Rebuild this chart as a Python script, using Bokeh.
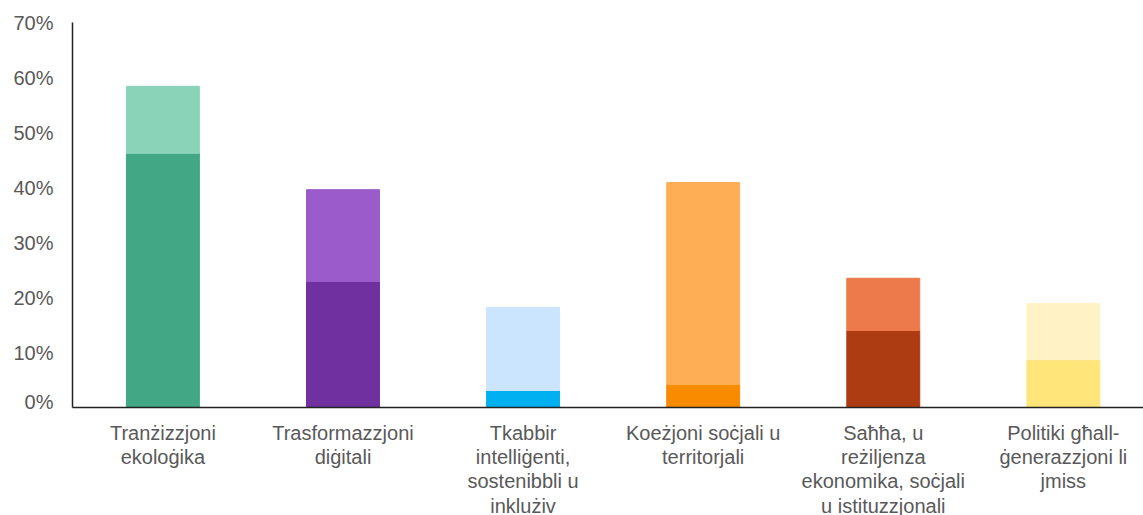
from bokeh.plotting import figure
from bokeh.layouts import column
from bokeh.models import Range1d, FixedTicker, NumeralTickFormatter, ColumnDataSource
from bokeh.core.properties import value
from bokeh.embed import file_html
from bokeh.resources import INLINE

categories = [
    "Tranżizzjoni\nekoloġika",
    "Trasformazzjoni\ndiġitali",
    "Tkabbir\nintelliġenti,\nsostenibbli u\ninklużiv",
    "Koeżjoni soċjali u\nterritorjali",
    "Saħħa, u\nreżiljenza\nekonomika, soċjali\nu istituzzjonali",
    "Politiki għall-\nġenerazzjoni li\njmiss",
]
lower = [0.462, 0.229, 0.031, 0.042, 0.140, 0.087]
total = [0.584, 0.396, 0.182, 0.409, 0.235, 0.189]
dark_colors = ["#41A785", "#7030A0", "#00B0F0", "#F98B00", "#AD3C13", "#FFE57A"]
light_colors = ["#8AD3B9", "#9B5BCB", "#CCE5FF", "#FEAF55", "#EC7A4B", "#FFF3C5"]
y_ticks = [0, 0.1, 0.2, 0.3, 0.4, 0.5, 0.6, 0.7]

xs = list(range(len(categories)))
src = ColumnDataSource(dict(x=xs, lower=lower, total=total,
                            dark=dark_colors, light=light_colors))

xr = Range1d(-0.502, 5.445)
TOP_H = 412
p = figure(width=1143, height=TOP_H, output_backend="svg", toolbar_location=None,
           x_range=xr, y_range=Range1d(0, 0.7),
           min_border_left=72, min_border_right=0, min_border_top=22,
           min_border_bottom=5)
p.vbar(x="x", bottom=0, top="lower", width=0.405, color="dark", source=src)
p.vbar(x="x", bottom="lower", top="total", width=0.405, color="light", source=src)

p.outline_line_color = None
p.xgrid.visible = False
p.ygrid.visible = False

p.yaxis.ticker = FixedTicker(ticks=y_ticks)
p.yaxis.formatter = NumeralTickFormatter(format="0%")
p.xaxis.ticker = FixedTicker(ticks=xs)
p.xaxis.major_label_overrides = {i: "" for i in xs}
p.xaxis.major_label_standoff = 0
p.xaxis.major_label_text_font_size = "0px"

for ax in (p.xaxis[0], p.yaxis[0]):
    ax.major_tick_line_color = None
    ax.minor_tick_line_color = None
    ax.major_tick_out = 0
    ax.major_tick_in = 0
    ax.axis_line_color = "#222222"
    ax.axis_line_width = 1.5
p.yaxis.major_label_text_font = "Liberation Sans"
p.yaxis.major_label_text_font_size = "20px"
p.yaxis.major_label_text_color = "#595959"
p.yaxis.major_label_standoff = 19

# category labels panel
BOT_H = 515 - TOP_H
q = figure(width=1143, height=BOT_H, output_backend="svg", toolbar_location=None,
           x_range=xr, y_range=Range1d(0, BOT_H),
           min_border_left=72, min_border_right=0, min_border_top=0,
           min_border_bottom=0)
q.axis.visible = False
q.grid.visible = False
q.outline_line_color = None
lsrc = ColumnDataSource(dict(x=xs, y=[BOT_H - 9] * len(xs), t=categories))
q.text(x="x", y="y", text="t", source=lsrc, text_align="center",
       text_baseline="top", text_font=value("Liberation Sans"),
       text_font_size="20px", text_color="#595959", text_line_height=1.11)

layout = column(p, q, spacing=0)
open("out.html", "w").write(file_html(layout, INLINE))
